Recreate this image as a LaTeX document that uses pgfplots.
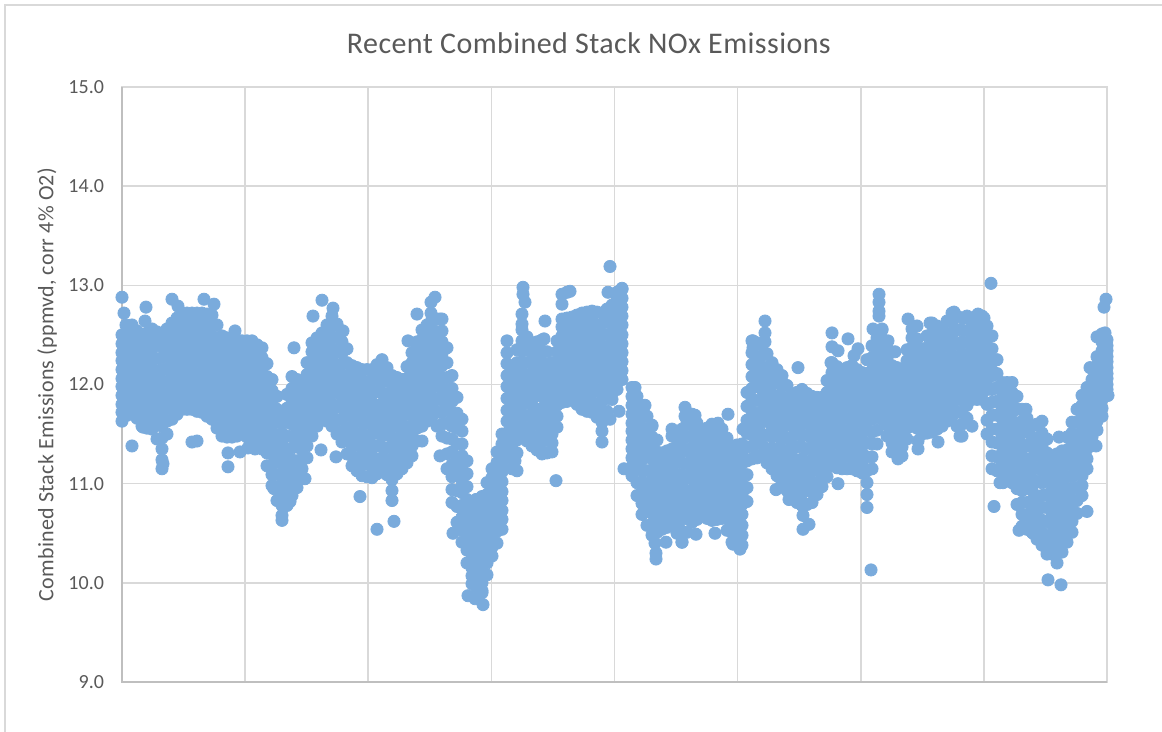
\documentclass[border=0pt]{standalone}
\usepackage{fontspec}
\setmainfont{Carlito}
\usepackage{pgfplots}
\usepackage{pgfplotstable}
\pgfplotsset{compat=1.18}
\definecolor{gridgrey}{HTML}{D9D9D9}
\definecolor{axisgrey}{HTML}{BFBFBF}
\definecolor{txtgrey}{HTML}{595959}
\definecolor{ptblue}{HTML}{7AABDC}

% sample position (0..985), then readings in that slice of the record
\pgfplotstableread{
0 11.63 11.72 11.80 11.89 11.98 12.06 12.15 12.24 12.32 12.41 12.50
10 11.75 11.83 11.92 12.00 12.09 12.17 12.26 12.34 12.43 12.51 12.60
20 11.58 11.67 11.76 11.85 11.94 12.03 12.13 12.22 12.31 12.40 12.49
30 11.55 11.65 11.75 11.85 11.95 12.05 12.16 12.26 12.36 12.46 12.56
40 11.35 11.46 11.58 11.69 11.81 11.92 12.04 12.15 12.27 12.38 12.50
50 11.65 11.75 11.84 11.94 12.04 12.13 12.23 12.33 12.42 12.52 12.62
60 11.75 11.85 11.94 12.04 12.14 12.23 12.33 12.43 12.52 12.62 12.72
70 11.75 11.85 11.94 12.04 12.14 12.23 12.33 12.43 12.52 12.62 12.72
80 11.72 11.82 11.92 12.02 12.12 12.22 12.32 12.42 12.52 12.62 12.72
90 11.65 11.76 11.86 11.97 12.07 12.18 12.28 12.39 12.49 12.60 12.70
100 11.48 11.58 11.68 11.78 11.88 11.98 12.09 12.19 12.29 12.39 12.49
110 11.47 11.57 11.67 11.77 11.87 11.97 12.06 12.16 12.26 12.36 12.46
120 11.50 11.59 11.69 11.78 11.88 11.97 12.06 12.16 12.25 12.35 12.44
130 11.45 11.55 11.65 11.75 11.85 11.95 12.04 12.14 12.24 12.34 12.44
140 11.38 11.48 11.58 11.68 11.78 11.88 11.97 12.07 12.17 12.27 12.37
150 10.98 11.09 11.19 11.30 11.41 11.52 11.62 11.73 11.84 11.94 12.05
160 10.68 10.78 10.89 10.99 11.10 11.20 11.30 11.41 11.51 11.62 11.72
170 10.88 11.00 11.12 11.24 11.36 11.48 11.60 11.72 11.84 11.96 12.08
180 11.05 11.15 11.24 11.34 11.44 11.54 11.63 11.73 11.83 11.92 12.02
190 11.48 11.57 11.67 11.76 11.86 11.95 12.04 12.14 12.23 12.33 12.42
200 11.68 11.76 11.85 11.93 12.02 12.10 12.18 12.27 12.35 12.44 12.52
210 11.58 11.69 11.80 11.91 12.02 12.14 12.25 12.36 12.47 12.58 12.69
220 11.42 11.53 11.65 11.76 11.87 11.98 12.10 12.21 12.32 12.43 12.54
230 11.18 11.28 11.38 11.48 11.58 11.68 11.79 11.89 11.99 12.09 12.19
240 11.08 11.19 11.29 11.40 11.51 11.62 11.72 11.83 11.94 12.04 12.15
250 11.06 11.17 11.28 11.39 11.50 11.61 11.71 11.82 11.93 12.04 12.15
260 11.15 11.26 11.37 11.48 11.59 11.70 11.80 11.91 12.02 12.13 12.25
270 11.04 11.15 11.25 11.36 11.46 11.57 11.67 11.78 11.88 11.99 12.09
280 11.15 11.24 11.33 11.42 11.51 11.60 11.69 11.78 11.87 11.96 12.05
290 11.28 11.38 11.49 11.59 11.70 11.80 11.90 12.01 12.11 12.22 12.32
300 11.58 11.68 11.77 11.87 11.97 12.07 12.16 12.26 12.36 12.45 12.55
310 11.68 11.78 11.88 11.97 12.07 12.17 12.27 12.37 12.46 12.56 12.66
320 11.48 11.60 11.72 11.84 11.96 12.07 12.19 12.31 12.43 12.54 12.66
330 10.81 10.94 11.07 11.19 11.32 11.45 11.58 11.71 11.83 11.96 12.09
340 10.41 10.53 10.66 10.78 10.91 11.03 11.15 11.28 11.40 11.53 11.65
350 9.99 10.07 10.15 10.24 10.32 10.40 10.48 10.56 10.65 10.73 10.81
360 9.90 10.00 10.09 10.19 10.29 10.39 10.48 10.58 10.68 10.77 10.87
370 10.27 10.36 10.45 10.53 10.62 10.71 10.80 10.89 10.97 11.06 11.15
380 10.54 10.64 10.73 10.83 10.92 11.02 11.12 11.21 11.31 11.40 11.50
385 11.28 11.40 11.51 11.63 11.74 11.86 11.98 12.09 12.21 12.32 12.44
390 11.15 11.25 11.35 11.45 11.55 11.65 11.75 11.85 11.95 12.05 12.15
400 11.48 11.59 11.69 11.80 11.91 12.02 12.12 12.23 12.34 12.44 12.55
410 11.38 11.48 11.59 11.69 11.80 11.90 12.00 12.11 12.21 12.32 12.42
420 11.30 11.42 11.53 11.65 11.76 11.88 11.99 12.11 12.22 12.34 12.45
430 11.32 11.41 11.50 11.59 11.68 11.77 11.86 11.95 12.04 12.13 12.22
440 11.82 11.90 11.99 12.07 12.16 12.24 12.32 12.41 12.49 12.58 12.66
450 11.85 11.93 12.02 12.10 12.18 12.27 12.35 12.43 12.51 12.60 12.68
460 11.75 11.85 11.94 12.04 12.14 12.24 12.33 12.43 12.53 12.62 12.72
470 11.72 11.82 11.92 12.03 12.13 12.23 12.33 12.43 12.54 12.64 12.74
480 11.62 11.73 11.84 11.95 12.06 12.17 12.28 12.39 12.50 12.61 12.72
490 11.85 11.95 12.04 12.14 12.23 12.33 12.42 12.52 12.61 12.71 12.80
500 12.05 12.14 12.23 12.32 12.41 12.50 12.60 12.69 12.78 12.87 12.96
510 11.08 11.17 11.26 11.35 11.44 11.53 11.61 11.70 11.79 11.88 11.97
520 10.69 10.80 10.91 11.02 11.13 11.24 11.35 11.46 11.57 11.68 11.79
530 10.48 10.59 10.70 10.81 10.92 11.03 11.14 11.25 11.36 11.47 11.58
540 10.54 10.62 10.69 10.77 10.85 10.93 11.00 11.08 11.16 11.23 11.31
550 10.58 10.66 10.73 10.81 10.89 10.97 11.04 11.12 11.20 11.27 11.35
560 10.41 10.52 10.64 10.75 10.87 10.98 11.09 11.21 11.32 11.44 11.55
570 10.61 10.72 10.83 10.94 11.05 11.16 11.26 11.37 11.48 11.59 11.70
580 10.68 10.76 10.85 10.93 11.02 11.10 11.18 11.27 11.35 11.44 11.52
590 10.63 10.73 10.82 10.92 11.02 11.12 11.21 11.31 11.41 11.50 11.60
600 10.65 10.74 10.83 10.92 11.01 11.10 11.19 11.28 11.37 11.46 11.55
610 10.41 10.51 10.60 10.70 10.80 10.90 10.99 11.09 11.19 11.28 11.38
620 10.38 10.48 10.58 10.69 10.79 10.89 10.99 11.09 11.20 11.30 11.40
630 11.25 11.37 11.49 11.61 11.73 11.85 11.96 12.08 12.20 12.32 12.44
640 11.28 11.39 11.50 11.62 11.73 11.84 11.95 12.06 12.18 12.29 12.40
650 11.15 11.26 11.36 11.47 11.58 11.69 11.79 11.90 12.01 12.11 12.22
660 11.01 11.12 11.23 11.33 11.44 11.55 11.66 11.77 11.87 11.98 12.09
670 10.85 10.95 11.06 11.16 11.27 11.37 11.47 11.58 11.68 11.79 11.89
680 10.78 10.90 11.01 11.13 11.25 11.37 11.48 11.60 11.72 11.83 11.95
690 10.81 10.92 11.02 11.13 11.24 11.35 11.45 11.56 11.67 11.77 11.88
700 10.97 11.06 11.15 11.24 11.33 11.42 11.51 11.60 11.69 11.78 11.87
710 11.18 11.28 11.39 11.49 11.60 11.70 11.80 11.91 12.01 12.12 12.22
720 11.15 11.25 11.35 11.45 11.55 11.65 11.75 11.85 11.95 12.05 12.15
730 11.15 11.25 11.36 11.46 11.57 11.67 11.77 11.88 11.98 12.09 12.19
740 11.11 11.21 11.31 11.41 11.51 11.62 11.72 11.82 11.92 12.02 12.12
750 11.15 11.27 11.40 11.52 11.65 11.77 11.89 12.02 12.14 12.27 12.39
760 11.65 11.74 11.83 11.92 12.01 12.10 12.19 12.28 12.37 12.46 12.55
770 11.32 11.41 11.49 11.58 11.67 11.76 11.84 11.93 12.02 12.10 12.19
780 11.28 11.37 11.45 11.54 11.63 11.72 11.80 11.89 11.98 12.06 12.15
790 11.62 11.71 11.81 11.90 12.00 12.09 12.18 12.28 12.37 12.47 12.56
800 11.50 11.59 11.67 11.76 11.84 11.93 12.02 12.10 12.19 12.27 12.36
810 11.52 11.63 11.74 11.85 11.96 12.07 12.18 12.29 12.40 12.51 12.62
820 11.58 11.68 11.78 11.88 11.97 12.07 12.17 12.27 12.37 12.46 12.56
830 11.68 11.78 11.89 11.99 12.10 12.20 12.30 12.41 12.51 12.62 12.72
840 11.48 11.60 11.72 11.84 11.96 12.08 12.19 12.31 12.43 12.55 12.67
850 11.85 11.93 12.01 12.09 12.18 12.26 12.34 12.42 12.50 12.59 12.67
860 11.85 11.93 12.02 12.10 12.19 12.27 12.35 12.44 12.52 12.61 12.69
870 11.15 11.28 11.42 11.55 11.69 11.82 11.95 12.09 12.22 12.36 12.49
880 11.12 11.21 11.30 11.39 11.48 11.57 11.66 11.75 11.84 11.93 12.02
890 11.01 11.11 11.21 11.31 11.41 11.52 11.62 11.72 11.82 11.92 12.02
900 10.57 10.69 10.81 10.93 11.05 11.16 11.28 11.40 11.52 11.63 11.75
910 10.51 10.62 10.72 10.83 10.94 11.05 11.15 11.26 11.37 11.47 11.58
920 10.38 10.51 10.63 10.76 10.88 11.01 11.13 11.26 11.38 11.51 11.63
930 10.29 10.39 10.49 10.59 10.69 10.79 10.88 10.98 11.08 11.18 11.28
940 10.31 10.41 10.51 10.62 10.72 10.82 10.92 11.02 11.13 11.23 11.33
950 10.51 10.62 10.73 10.84 10.95 11.07 11.18 11.29 11.40 11.51 11.62
960 10.88 10.98 11.08 11.18 11.28 11.39 11.49 11.59 11.69 11.79 11.89
970 11.41 11.47 11.54 11.60 11.67 11.73 11.79 11.86 11.92 11.99 12.05
980 11.68 11.76 11.85 11.93 12.01 12.10 12.18 12.26 12.34 12.43 12.51
985 11.89 11.95 12.00 12.06 12.11 12.17 12.23 12.28 12.34 12.39 12.45
}\stackdata

% readings between those slices
\pgfplotstableread{
5 11.69 11.80 11.91 12.01 12.12 12.23 12.34 12.44 12.55
15 11.66 11.77 11.88 11.99 12.10 12.21 12.32 12.43 12.54
25 11.56 11.68 11.80 11.92 12.04 12.16 12.28 12.40 12.52
35 11.45 11.59 11.72 11.86 11.99 12.13 12.26 12.40 12.53
45 11.50 11.63 11.77 11.90 12.03 12.16 12.30 12.43 12.56
55 11.70 11.82 11.94 12.06 12.19 12.31 12.43 12.55 12.67
65 11.75 11.87 11.99 12.11 12.24 12.36 12.48 12.60 12.72
75 11.73 11.85 11.98 12.10 12.23 12.35 12.47 12.60 12.72
85 11.68 11.81 11.94 12.07 12.20 12.32 12.45 12.58 12.71
95 11.56 11.69 11.82 11.95 12.08 12.21 12.34 12.47 12.60
105 11.47 11.60 11.72 11.85 11.97 12.10 12.22 12.35 12.47
115 11.48 11.60 11.72 11.84 11.97 12.09 12.21 12.33 12.45
125 11.47 11.59 11.71 11.83 11.96 12.08 12.20 12.32 12.44
135 11.41 11.53 11.66 11.78 11.91 12.03 12.15 12.28 12.40
145 11.18 11.31 11.44 11.57 11.70 11.82 11.95 12.08 12.21
155 10.83 10.96 11.09 11.22 11.36 11.49 11.62 11.75 11.88
165 10.78 10.92 11.06 11.20 11.34 11.48 11.62 11.76 11.90
175 10.96 11.10 11.23 11.37 11.51 11.64 11.78 11.91 12.05
185 11.26 11.38 11.50 11.62 11.74 11.86 11.98 12.10 12.22
195 11.58 11.69 11.80 11.91 12.03 12.14 12.25 12.36 12.47
205 11.63 11.75 11.87 11.99 12.12 12.24 12.36 12.48 12.60
215 11.50 11.64 11.78 11.92 12.06 12.19 12.33 12.47 12.61
225 11.30 11.43 11.56 11.69 11.83 11.96 12.09 12.22 12.36
235 11.13 11.26 11.39 11.51 11.65 11.78 11.91 12.04 12.17
245 11.07 11.20 11.34 11.47 11.61 11.74 11.88 12.01 12.15
255 11.10 11.24 11.38 11.51 11.65 11.79 11.93 12.06 12.20
265 11.09 11.23 11.36 11.50 11.63 11.77 11.90 12.04 12.17
275 11.10 11.22 11.34 11.46 11.59 11.71 11.83 11.95 12.07
285 11.21 11.33 11.45 11.57 11.70 11.82 11.94 12.06 12.18
295 11.43 11.56 11.68 11.81 11.93 12.06 12.18 12.31 12.43
305 11.63 11.75 11.87 11.99 12.12 12.24 12.36 12.48 12.60
315 11.58 11.72 11.85 11.99 12.12 12.26 12.39 12.53 12.66
325 11.15 11.30 11.46 11.61 11.76 11.91 12.07 12.22 12.37
335 10.61 10.77 10.93 11.09 11.24 11.40 11.56 11.71 11.87
345 10.20 10.33 10.46 10.59 10.72 10.84 10.97 11.10 11.23
355 9.95 10.06 10.17 10.29 10.40 10.51 10.62 10.73 10.84
365 10.08 10.20 10.31 10.43 10.55 10.66 10.78 10.89 11.01
375 10.40 10.52 10.63 10.75 10.86 10.98 11.09 11.21 11.32
395 11.31 11.44 11.57 11.70 11.83 11.96 12.09 12.22 12.35
405 11.43 11.56 11.69 11.82 11.96 12.09 12.22 12.35 12.48
415 11.34 11.48 11.61 11.75 11.89 12.02 12.16 12.29 12.43
425 11.31 11.44 11.57 11.69 11.82 11.95 12.08 12.20 12.33
435 11.57 11.68 11.79 11.90 12.01 12.11 12.22 12.33 12.44
445 11.83 11.93 12.04 12.14 12.25 12.35 12.46 12.56 12.67
455 11.80 11.91 12.03 12.14 12.25 12.36 12.48 12.59 12.70
465 11.73 11.86 11.98 12.11 12.23 12.36 12.48 12.61 12.73
475 11.67 11.80 11.94 12.07 12.20 12.33 12.47 12.60 12.73
485 11.73 11.86 11.99 12.12 12.25 12.37 12.50 12.63 12.76
495 11.95 12.07 12.18 12.30 12.42 12.53 12.65 12.76 12.88
515 10.88 11.01 11.15 11.28 11.38 11.51 11.63 11.75 11.88
525 10.58 10.72 10.86 10.99 11.13 11.27 11.41 11.54 11.68
535 10.51 10.63 10.74 10.86 10.98 11.09 11.21 11.32 11.44
545 10.56 10.66 10.75 10.85 10.95 11.04 11.14 11.23 11.33
555 10.50 10.62 10.74 10.86 10.98 11.09 11.21 11.33 11.45
565 10.51 10.65 10.78 10.92 11.07 11.20 11.34 11.48 11.62
575 10.64 10.76 10.88 11.00 11.13 11.25 11.37 11.49 11.61
585 10.65 10.76 10.88 10.99 11.11 11.22 11.33 11.45 11.56
595 10.64 10.75 10.87 10.99 11.11 11.22 11.34 11.45 11.57
605 10.53 10.65 10.76 10.88 11.00 11.11 11.23 11.34 11.46
615 10.39 10.51 10.64 10.76 10.89 11.01 11.14 11.26 11.39
625 10.82 10.96 11.09 11.23 11.37 11.51 11.64 11.78 11.92
635 11.26 11.41 11.55 11.70 11.84 11.98 12.13 12.27 12.42
645 11.21 11.35 11.49 11.63 11.76 11.90 12.04 12.17 12.31
655 11.08 11.21 11.35 11.48 11.62 11.75 11.88 12.02 12.15
665 10.93 11.06 11.19 11.33 11.46 11.59 11.72 11.86 11.99
675 10.81 10.95 11.09 11.23 11.37 11.50 11.64 11.78 11.92
685 10.79 10.93 11.07 11.21 11.35 11.49 11.63 11.77 11.91
695 10.89 11.01 11.14 11.26 11.38 11.50 11.63 11.75 11.87
705 11.07 11.19 11.31 11.43 11.56 11.68 11.80 11.92 12.04
715 11.16 11.28 11.41 11.53 11.67 11.80 11.92 12.05 12.18
725 11.15 11.28 11.40 11.53 11.66 11.79 11.91 12.04 12.17
735 11.13 11.26 11.39 11.51 11.64 11.77 11.90 12.02 12.15
745 11.13 11.27 11.41 11.55 11.69 11.83 11.97 12.11 12.25
755 11.40 11.54 11.67 11.81 11.94 12.07 12.20 12.34 12.47
765 11.48 11.59 11.70 11.81 11.93 12.04 12.15 12.26 12.37
775 11.30 11.41 11.51 11.62 11.73 11.84 11.95 12.06 12.17
785 11.45 11.56 11.68 11.79 11.90 12.01 12.13 12.24 12.35
795 11.56 11.67 11.79 11.90 12.01 12.12 12.24 12.35 12.46
805 11.51 11.63 11.75 11.88 12.00 12.12 12.24 12.37 12.49
815 11.55 11.68 11.81 11.94 12.07 12.20 12.33 12.46 12.59
825 11.63 11.76 11.88 12.01 12.13 12.26 12.39 12.51 12.64
835 11.58 11.72 11.85 11.99 12.13 12.27 12.41 12.55 12.69
845 11.66 11.79 11.91 12.04 12.17 12.29 12.42 12.54 12.67
855 11.85 11.95 12.06 12.16 12.27 12.37 12.47 12.58 12.68
865 11.50 11.64 11.80 11.95 12.05 12.19 12.32 12.46 12.59
875 11.13 11.27 11.41 11.55 11.69 11.83 11.97 12.11 12.25
885 11.06 11.18 11.30 11.42 11.54 11.66 11.78 11.90 12.02
895 10.79 10.95 11.10 11.24 11.33 11.47 11.61 11.75 11.88
905 10.54 10.68 10.81 10.95 11.10 11.24 11.38 11.52 11.66
915 10.44 10.58 10.73 10.87 11.02 11.16 11.31 11.45 11.60
925 10.33 10.47 10.62 10.76 10.89 11.03 11.17 11.31 11.45
935 10.30 10.43 10.55 10.68 10.80 10.93 11.05 11.18 11.30
945 10.41 10.54 10.68 10.81 10.94 11.07 11.21 11.34 11.47
955 10.70 10.83 10.96 11.09 11.22 11.36 11.49 11.62 11.75
965 11.15 11.25 11.35 11.46 11.56 11.66 11.76 11.87 11.97
975 11.54 11.63 11.72 11.82 11.91 12.00 12.09 12.19 12.28
}\betweendata

\pgfplotsset{pts/.style={only marks,mark=*,mark size=3.05pt,color=ptblue,mark options={draw=ptblue,fill=ptblue}}}

\begin{document}
\begin{tikzpicture}
\path[use as bounding box] (-61pt,-25pt) rectangle (520pt,341pt);
\draw[gridgrey,line width=1pt] (-58.5pt,-25pt) -- (-58.5pt,338.5pt) -- (520pt,338.5pt);
\begin{axis}[
    at={(0pt,0pt)}, anchor=south west,
    scale only axis, width=492.5pt, height=297.5pt,
    xmin=0, xmax=985, ymin=9, ymax=15,
    xtick={0,123.1,246.2,369.4,492.5,615.6,738.8,861.9,985},
    xticklabels={},
    ytick={9,10,11,12,13,14,15},
    major tick length=0pt,
    grid=major,
    grid style={gridgrey,line width=0.8pt},
    axis line style={gridgrey,line width=0.8pt},
    clip=false,
    font=\fontsize{10}{12}\selectfont\color{txtgrey},
    ticklabel style={/pgf/number format/fixed,/pgf/number format/fixed zerofill,/pgf/number format/precision=1,/pgf/number format/assume math mode=true},
    yticklabel style={xshift=-5.5pt},
    title={\addfontfeatures{LetterSpace=1.4}Recent Combined Stack NOx Emissions},
    every axis title shift=0pt,
    title style={font=\fontsize{15}{17}\selectfont\color{txtgrey},at={(axis description cs:0.474,1.074)},anchor=center},
    ylabel={\addfontfeatures{LetterSpace=1}Combined Stack Emissions (ppmvd, corr 4\% O2)},
    ylabel style={font=\fontsize{11}{13}\selectfont\color{txtgrey},at={(axis description cs:-0.076,0.50)},anchor=center},
]
\draw[axisgrey,line width=0.8pt] (rel axis cs:0,1) -- (rel axis cs:0,0) -- (rel axis cs:1,0);
\pgfplotsinvokeforeach{1,...,11}{
  \addplot[pts] table[x index=0,y index=#1] {\stackdata};
}
\pgfplotsinvokeforeach{1,...,9}{
  \addplot[pts] table[x index=0,y index=#1] {\betweendata};
}
% isolated readings and the thin spikes around the main band
\addplot[pts] coordinates {
(0,12.88)(2,12.72)(4,12.60)(24,12.78)(23,12.64)(10,11.38)(40,11.24)(40,11.15)(41,11.20)(21,11.57)
(70,11.42)(75,11.43)(113,12.54)(106,11.31)(106,11.17)(118,11.32)(126,11.36)(133,11.35)(140,11.35)
(50,12.86)(56,12.79)(82,12.86)(92,12.81)(183,11.05)(172,12.37)(191,12.69)(200,12.85)(211,12.77)(199,11.34)(214,11.27)(238,10.87)(221,12.54)
(160,10.63)(152,10.95)(168,10.82)
(295,12.71)(286,12.44)(295,12.39)(313,12.88)(309,12.83)(309,12.72)(318,12.66)
(300,11.43)(318,11.28)(335,11.68)(270,10.93)(270,10.83)(272,10.62)(255,10.54)
(331,10.50)(346,9.87)(353,9.84)(361,9.78)(360,9.92)(354,10.84)
(401,12.98)(401,12.91)(403,12.83)(400,12.71)(400,12.61)(423,12.64)(422,12.46)(434,11.03)
(393,11.23)(395,11.13)(440,12.91)(445,12.93)(448,12.94)(440,12.81)(480,11.53)(480,11.42)
(488,13.19)(486,12.93)(495,12.93)(500,12.97)(502,11.15)(488,11.65)(497,11.73)
(513,11.97)(523,11.79)(530,11.59)(534,10.24)(534,10.30)(533,10.40)
(544,10.41)(560,10.41)(574,10.49)(593,10.50)(618,10.34)(611,10.39)
(550,11.55)(550,11.48)(563,11.77)(563,11.68)(573,11.69)(596,11.61)(606,11.70)(621,11.55)(636,11.28)
(631,12.44)(631,12.37)(643,12.64)(643,12.52)(643,12.43)(654,10.94)(667,10.84)
(676,12.17)(681,10.68)(681,10.54)(687,10.59)(716,11.00)
(710,12.52)(710,12.38)(716,12.34)(726,12.46)(736,12.36)(732,12.29)(709,12.22)
(745,11.01)(745,10.89)(745,10.76)(749,10.13)
(757,12.91)(757,12.83)(757,12.74)(757,12.69)(751,12.56)(760,12.56)(766,12.44)(773,12.33)
(786,12.66)(795,12.59)(808,12.62)(818,12.56)(810,12.47)
(796,11.43)(796,11.35)(776,11.25)(816,11.42)(838,11.48)(850,11.58)
(832,12.73)(845,12.69)(856,12.71)(862,12.67)(869,13.02)
(881,11.01)(878,11.01)(872,10.77)(904,11.75)(897,10.53)(911,10.50)
(925,10.29)(935,10.20)(926,10.03)(939,9.98)(937,11.47)(937,11.30)
(965,10.72)(974,11.38)(968,12.17)(975,12.48)(983,12.52)(984,12.86)(982,12.78)(986,11.89)
};
\end{axis}
\end{tikzpicture}
\end{document}
